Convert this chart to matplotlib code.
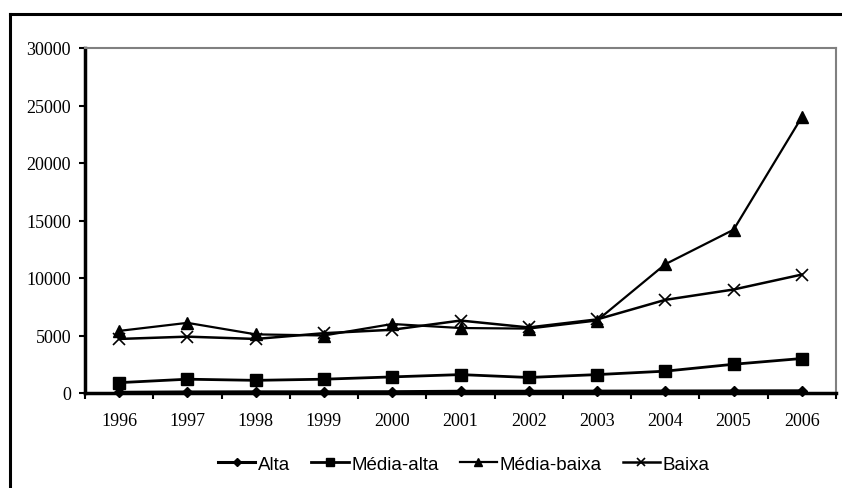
import matplotlib
matplotlib.use("Agg")
import matplotlib.pyplot as plt
from matplotlib.lines import Line2D

years = ["1996", "1997", "1998", "1999", "2000", "2001", "2002", "2003", "2004", "2005", "2006"]
alta = [60, 90, 100, 100, 110, 150, 150, 160, 170, 180, 190]
media_alta = [900, 1200, 1100, 1200, 1400, 1600, 1350, 1600, 1900, 2500, 3000]
media_baixa = [5400, 6100, 5100, 5000, 6000, 5650, 5600, 6300, 11200, 14200, 24000]
baixa = [4700, 4900, 4700, 5200, 5500, 6300, 5700, 6400, 8100, 9000, 10300]

W, H = 842, 489
fig = plt.figure(figsize=(W / 100, H / 100), dpi=100)
fig.patch.set_facecolor("white")

# outer frame (top and left edges)
fig.add_artist(Line2D([10 / W, 1.0], [1 - 15 / H, 1 - 15 / H], color="black", lw=2.2,
                      transform=fig.transFigure))
fig.add_artist(Line2D([10 / W, 10 / W], [0.0, 1 - 15 / H], color="black", lw=2.2,
                      transform=fig.transFigure))

ax = fig.add_axes([85 / W, 1 - 394 / H, (836 - 85) / W, (394 - 49) / H])
x = list(range(len(years)))

serif = "Liberation Serif"
ax.plot(x, alta, color="black", lw=2.2, marker="D", markersize=5.5, label="Alta", clip_on=False)
ax.plot(x, media_alta, color="black", lw=2.0, marker="s", markersize=8, label="Média-alta")
ax.plot(x, media_baixa, color="black", lw=1.6, marker="^", markersize=8.5, label="Média-baixa")
ax.plot(x, baixa, color="black", lw=1.8, marker="x", markersize=8, markeredgewidth=1.2,
        label="Baixa")

ax.set_xlim(-0.5, len(years) - 0.5)
ax.set_ylim(0, 30000)
ax.set_yticks(range(0, 30001, 5000))
ax.set_yticklabels([str(v) for v in range(0, 30001, 5000)], fontfamily=serif, fontsize=13)
ax.set_xticks(x)
ax.set_xticklabels(years, fontfamily=serif, fontsize=13)
ax.set_xticks([i - 0.5 for i in range(len(years) + 1)], minor=True)
ax.tick_params(axis="x", which="major", length=0, pad=14)
ax.tick_params(axis="x", which="minor", length=4, width=1.5, direction="out")
ax.tick_params(axis="y", length=4, width=1.5, direction="out", pad=6)

for side in ("top", "right"):
    ax.spines[side].set_color("#808080")
    ax.spines[side].set_linewidth(1.5)
for side in ("left", "bottom"):
    ax.spines[side].set_color("black")
    ax.spines[side].set_linewidth(2.5)

leg = fig.legend(loc="center", bbox_to_anchor=(464 / W, 1 - 465 / H), ncol=4, frameon=False,
                 prop={"family": "Liberation Sans", "size": 13.5}, handlelength=2.0,
                 handletextpad=0.15, columnspacing=1.1, markerscale=0.75)

fig.savefig("out.png", dpi=100, facecolor="white")
